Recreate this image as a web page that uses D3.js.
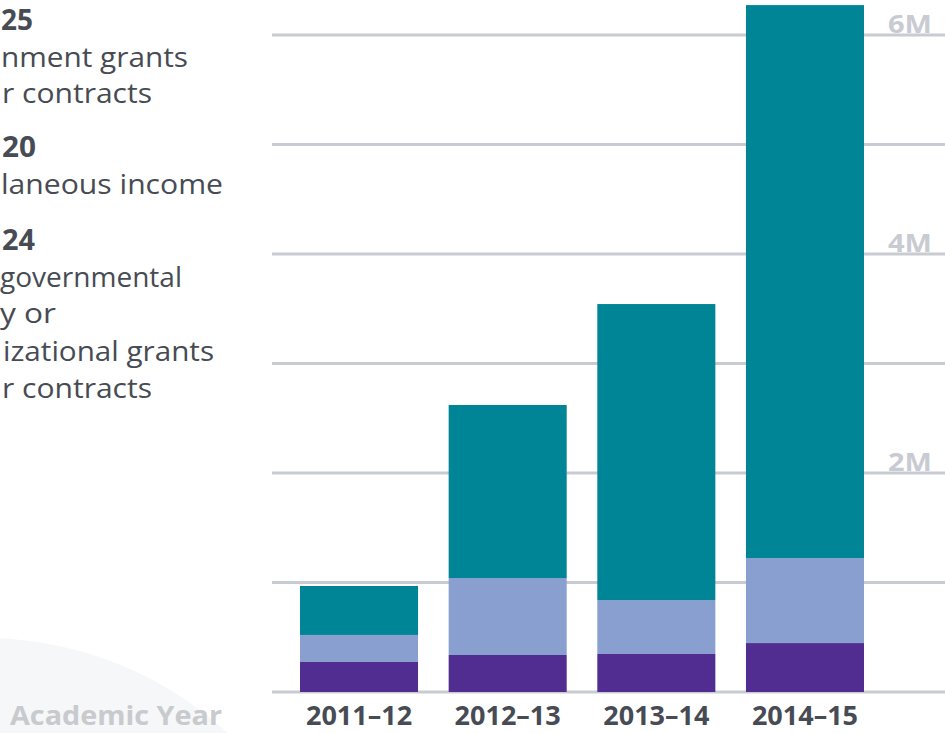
<!DOCTYPE html>
<html>
<head>
<meta charset="utf-8">
<script src="https://cdn.jsdelivr.net/npm/d3@7"></script>
<style>
  html, body { margin: 0; padding: 0; background: #ffffff; overflow: hidden; }
  svg { display: block; }
  text { font-family: "Open Sans", "Noto Sans", sans-serif; }
</style>
</head>
<body>
<svg id="chart" width="945" height="733"></svg>
<script>
// ---- Data (values in millions of dollars) ----
const years = ["2011–12", "2012–13", "2013–14", "2014–15"];
const nongovernmental = [0.274, 0.338, 0.347, 0.447];
const miscellaneous   = [0.247, 0.703, 0.493, 0.776];
const government      = [0.447, 1.580, 2.703, 5.050];
const seriesKeys   = ["nongovernmental", "miscellaneous", "government"];
const seriesColors = ["#512d91", "#899fcf", "#008597"];
const gridValues = [0, 1, 2, 3, 4, 5, 6];
const tickLabels = [{v: 2, t: "2M"}, {v: 4, t: "4M"}, {v: 6, t: "6M"}];
// legend text as visible in the (left-cropped) frame
const legendLines = [
  {t: "25", bold: true},
  {t: "nment grants"},
  {t: "r contracts"},
  {t: "20", bold: true},
  {t: "laneous income"},
  {t: "24", bold: true},
  {t: "governmental"},
  {t: "y or"},
  {t: "izational grants"},
  {t: "r contracts"}
];
const xAxisTitle = "Academic Year";

// ---- Build table ----
const table = years.map((y, i) => ({
  year: y,
  nongovernmental: nongovernmental[i],
  miscellaneous: miscellaneous[i],
  government: government[i]
}));

const svg = d3.select("#chart");

// decorative background circle
svg.append("circle")
  .attr("cx", -16).attr("cy", 998).attr("r", 360)
  .attr("fill", "#f5f7f9");

const x = d3.scaleBand().domain(years).range([300, 864]).paddingInner(0.206).paddingOuter(0);
const y = d3.scaleLinear().domain([0, 6]).range([692, 35]);

// gridlines
svg.append("g").selectAll("line").data(gridValues).join("line")
  .attr("x1", 272).attr("x2", 945)
  .attr("y1", d => y(d)).attr("y2", d => y(d))
  .attr("stroke", "#c9cbd3").attr("stroke-width", 3);

// tick labels
svg.append("g").selectAll("text").data(tickLabels).join("text")
  .attr("x", 888).attr("y", d => y(d.v) - 2)
  .attr("textLength", 44).attr("lengthAdjust", "spacingAndGlyphs")
  .attr("font-size", 25).attr("font-weight", 700)
  .attr("fill", "#c9cbd3")
  .text(d => d.t);

// stacked bars
const stack = d3.stack().keys(seriesKeys);
const stacked = stack(table);
svg.append("g").selectAll("g").data(stacked).join("g")
  .attr("fill", (d, i) => seriesColors[i])
  .selectAll("rect").data(d => d).join("rect")
  .attr("x", d => x(d.data.year))
  .attr("width", x.bandwidth())
  .attr("y", d => y(d[1]))
  .attr("height", d => y(d[0]) - y(d[1]));

// x axis labels
svg.append("g").selectAll("text").data(years).join("text")
  .attr("x", d => x(d) + x.bandwidth() / 2)
  .attr("y", 725)
  .attr("text-anchor", "middle")
  .attr("font-size", 27).attr("font-weight", 700)
  .attr("fill", "#474b53")
  .text(d => d);

svg.append("text")
  .attr("x", 10).attr("y", 725)
  .attr("textLength", 212).attr("lengthAdjust", "spacingAndGlyphs")
  .attr("font-size", 27).attr("font-weight", 700)
  .attr("fill", "#c9cacd")
  .text(xAxisTitle);

// legend text
const legendLeft  = [1, 1, 2, 2, 1, 2, 0, 0, 3, 2];
const legendRight = [33, 188, 152, 36, 223, 35, 182, 56, 214, 152];
const legendBase  = [30, 67, 103, 157, 194, 250, 287, 323, 361, 398];
svg.append("g").selectAll("text").data(legendLines).join("text")
  .attr("x", (d, i) => legendLeft[i])
  .attr("y", (d, i) => legendBase[i])
  .attr("textLength", (d, i) => legendRight[i] - legendLeft[i])
  .attr("lengthAdjust", "spacingAndGlyphs")
  .attr("font-size", d => d.bold ? 28 : 27)
  .attr("font-weight", d => d.bold ? 700 : 400)
  .attr("fill", "#474b53")
  .text(d => d.t);
</script>
</body>
</html>
